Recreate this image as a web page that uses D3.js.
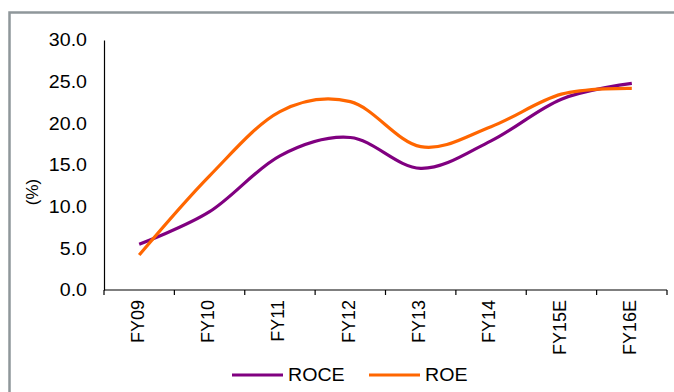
<!DOCTYPE html>
<html>
<head>
<meta charset="utf-8">
<script src="https://cdn.jsdelivr.net/npm/d3@7"></script>
<style>
  html, body { margin: 0; padding: 0; background: #fff; }
  svg { display: block; font-family: "Liberation Sans", Arial, Helvetica, sans-serif; }
</style>
</head>
<body>
<svg id="chart" width="674" height="392"></svg>
<script>
const categories = ["FY09", "FY10", "FY11", "FY12", "FY13", "FY14", "FY15E", "FY16E"];
const roce = [5.5, 9.4, 16.1, 18.3, 14.6, 17.9, 22.9, 24.8];
const roe  = [4.2, 13.7, 21.4, 22.6, 17.2, 19.6, 23.5, 24.2];
const yTicks = [0, 5, 10, 15, 20, 25, 30];
const seriesNames = ["ROCE", "ROE"];
const seriesColors = ["#800080", "#FF6600"];
const stretch = 1.09;

const svg = d3.select("#chart");

// outer frame
svg.append("rect")
  .attr("x", 9.5).attr("y", 12.5)
  .attr("width", 700).attr("height", 400)
  .attr("fill", "none")
  .attr("stroke", "#8f979a")
  .attr("stroke-width", 2.5);

const pLeft = 104, pRight = 667, pTop = 40, pBottom = 290;

const x = d3.scaleBand().domain(categories).range([pLeft, pRight]).padding(0);
const xc = d => x(d) + x.bandwidth() / 2;
const y = d3.scaleLinear().domain([0, 30]).range([pBottom, pTop]);

// y axis
const yAxis = d3.axisLeft(y).tickValues(yTicks).tickSize(0).tickPadding(0)
  .tickFormat(d3.format(".1f"));
const gy = svg.append("g").attr("transform", `translate(${pLeft},0)`).call(yAxis);
gy.select(".domain").attr("stroke", "#000").attr("stroke-width", 1.2);
gy.selectAll("text").attr("font-size", 18).attr("fill", "#000")
  .attr("font-family", "'Liberation Sans', Arial, sans-serif")
  .attr("x", null)
  .attr("transform", `translate(-17,0) scale(${stretch},1)`);

// x axis line + ticks at band boundaries
const gx = svg.append("g").attr("transform", `translate(0,${pBottom})`);
gx.append("line").attr("x1", pLeft).attr("x2", pRight).attr("y1", 0).attr("y2", 0)
  .attr("stroke", "#000").attr("stroke-width", 1.2);
const boundaries = categories.map(c => x(c)).concat([pRight]);
gx.selectAll("line.tick").data(boundaries).enter().append("line")
  .attr("class", "tick")
  .attr("x1", d => d).attr("x2", d => d).attr("y1", 0).attr("y2", 5)
  .attr("stroke", "#000").attr("stroke-width", 1.2);
gx.selectAll("text.lbl").data(categories).enter().append("text")
  .attr("class", "lbl")
  .attr("transform", d => `translate(${xc(d) - 2},10) rotate(-90)`)
  .attr("text-anchor", "end")
  .attr("dy", "0.35em")
  .attr("font-size", 18)
  .attr("fill", "#000")
  .text(d => d);

// y label
svg.append("text")
  .attr("transform", `translate(32,192) rotate(-90)`)
  .attr("text-anchor", "middle")
  .attr("dy", "0.35em")
  .attr("font-size", 17)
  .attr("fill", "#000")
  .text("(%)");

// lines
const line = d3.line()
  .x((d, i) => xc(categories[i]))
  .y(d => y(d))
  .curve(d3.curveCatmullRom.alpha(0));

[roce, roe].forEach((vals, i) => {
  svg.append("path")
    .datum(vals)
    .attr("d", line)
    .attr("fill", "none")
    .attr("stroke", seriesColors[i])
    .attr("stroke-width", 3.2)
    .attr("stroke-linejoin", "round");
});

// legend
const legendX = [232, 369];
seriesNames.forEach((name, i) => {
  const g = svg.append("g").attr("transform", `translate(${legendX[i]},375)`);
  g.append("line").attr("x1", 0).attr("x2", 51).attr("y1", 0).attr("y2", 0)
    .attr("stroke", seriesColors[i]).attr("stroke-width", 3.2);
  g.append("text").attr("transform", `translate(56,0) scale(${stretch},1)`)
    .attr("dy", "0.35em")
    .attr("font-size", 18).attr("fill", "#000").text(name);
});
</script>
</body>
</html>
